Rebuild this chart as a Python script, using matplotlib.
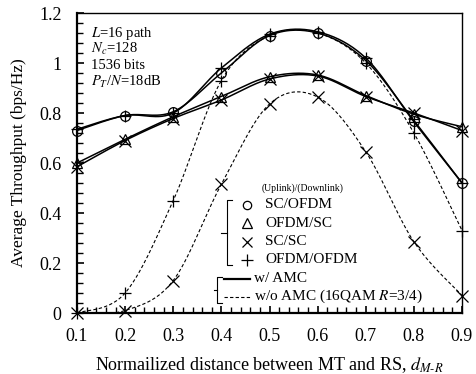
import numpy as np
import matplotlib
matplotlib.use('Agg')
import matplotlib.pyplot as plt
from matplotlib.lines import Line2D
from matplotlib.ticker import MultipleLocator, FixedLocator

plt.rcParams['font.family'] = ['Liberation Serif', 'DejaVu Serif']
plt.rcParams['mathtext.fontset'] = 'stix'

# ---------------- data ----------------
distance = [0.1, 0.2, 0.3, 0.4, 0.5, 0.6, 0.7, 0.8, 0.9]
sc_ofdm_amc = [0.73, 0.79, 0.805, 0.96, 1.11, 1.12, 1.01, 0.77, 0.52]
ofdm_ofdm_amc = [0.735, 0.79, 0.80, 0.98, 1.115, 1.125, 1.02, 0.765, 0.52]
ofdm_sc_amc = [0.60, 0.695, 0.785, 0.866, 0.945, 0.952, 0.87, 0.795, 0.745]
sc_sc_amc = [0.585, 0.69, 0.778, 0.852, 0.936, 0.948, 0.866, 0.80, 0.73]
ofdm_ofdm_noamc = [0.0, 0.08, 0.45, 0.93, 1.11, 1.12, 1.0, 0.72, 0.33]
sc_sc_noamc = [0.0, 0.01, 0.13, 0.515, 0.836, 0.864, 0.645, 0.285, 0.07]

x_ticks = [0.1, 0.2, 0.3, 0.4, 0.5, 0.6, 0.7, 0.8, 0.9]
x_tick_labels = ['0.1', '0.2', '0.3', '0.4', '0.5', '0.6', '0.7', '0.8', '0.9']
y_ticks = [0, 0.2, 0.4, 0.6, 0.8, 1.0, 1.2]
y_tick_labels = ['0', '0.2', '0.4', '0.6', '0.8', '1', '1.2']

legend_schemes = ['SC/OFDM', 'OFDM/SC', 'SC/SC', 'OFDM/OFDM']
legend_lines = ['w/ AMC', 'w/o AMC (16QAM $\\mathit{R}$=3/4)']
info_lines = ['$\\mathit{L}$=16 path', '$\\mathit{N_c}$=128', '1536 bits',
              '$\\mathit{P_T}$/$\\mathit{N}$=18dB']

W, H = 477, 374


def smooth(xs, ys, n=30):
    """Catmull-Rom smoothing (like a spreadsheet 'smoothed line')."""
    P = np.column_stack([xs, ys]).astype(float)
    P = np.vstack([P[0], P, P[-1]])
    t = np.linspace(0, 1, n, endpoint=False)[:, None]
    out = []
    for i in range(1, len(P) - 2):
        p0, p1, p2, p3 = P[i - 1], P[i], P[i + 1], P[i + 2]
        seg = 0.5 * (2 * p1 + (-p0 + p2) * t + (2 * p0 - 5 * p1 + 4 * p2 - p3) * t ** 2
                     + (-p0 + 3 * p1 - 3 * p2 + p3) * t ** 3)
        out.append(seg)
    out.append(P[-2][None, :])
    out = np.vstack(out)
    return out[:, 0], out[:, 1]


fig = plt.figure(figsize=(W / 100, H / 100), dpi=100)
ax = fig.add_axes([77 / W, (H - 313) / H, 385 / W, 300 / H])

solid_kw = dict(color='black', lw=1.1, linestyle='-')
dash_kw = dict(color='black', lw=0.8, linestyle=(0, (3, 2)))
mk = dict(markersize=7, markerfacecolor='none', markeredgecolor='black',
          markeredgewidth=0.9, linestyle='none', clip_on=False, zorder=5)

series = [
    (sc_ofdm_amc, 'o', solid_kw),
    (ofdm_ofdm_amc, '+', solid_kw),
    (ofdm_sc_amc, '^', solid_kw),
    (sc_sc_amc, 'x', solid_kw),
    (ofdm_ofdm_noamc, '+', dash_kw),
    (sc_sc_noamc, 'x', dash_kw),
]
for ys, m, kw in series:
    sx, sy = smooth(distance, ys)
    ax.plot(sx, sy, **kw)
    ms = 8 if m in ('+', 'x') else 7
    ax.plot(distance, ys, marker=m, **{**mk, 'markersize': ms})

ax.set_xlim(0.1, 0.9)
ax.set_ylim(0, 1.2)
ax.xaxis.set_major_locator(FixedLocator(x_ticks))
ax.set_xticklabels(x_tick_labels)
ax.yaxis.set_major_locator(FixedLocator(y_ticks))
ax.set_yticklabels(y_tick_labels)
ax.xaxis.set_minor_locator(MultipleLocator(0.02))
ax.yaxis.set_minor_locator(MultipleLocator(0.04))
ax.tick_params(which='both', direction='in', top=False, right=False,
               labelsize=13, pad=11)
ax.tick_params(which='major', length=5, width=1.2)
ax.tick_params(which='minor', length=4, width=1.0)
for s in ['left', 'bottom']:
    ax.spines[s].set_linewidth(1.6)
for s in ['top', 'right']:
    ax.spines[s].set_linewidth(1.0)

ax.set_xlabel('Normailized distance between MT and RS, $\\mathit{d_{M\\text{-}R}}$', fontsize=13)
ax.xaxis.set_label_coords(0.5, -0.14)
ax.set_ylabel('Average Throughput (bps/Hz)', fontsize=12.5)
ax.yaxis.set_label_coords(-0.13, 0.5)


def px(x, y):
    return x / W, 1 - y / H


# info text
for i, t in enumerate(info_lines):
    fig.text(*px(91, 33 + i * 16.4), t, fontsize=10.5, ha='left', va='center')

# legend
fig.text(*px(303, 188), '(Uplink)/(Downlink)', fontsize=7, ha='center', va='center')
leg_markers = ['o', '^', 'x', '+']
leg_ms = [6, 6.5, 7, 8]
for i, (lab, m) in enumerate(zip(legend_schemes, leg_markers)):
    yy = 205 + i * 18.3
    fig.add_artist(Line2D([247 / W], [1 - yy / H], marker=m, markersize=leg_ms[i],
                          markerfacecolor='none', markeredgecolor='black',
                          markeredgewidth=0.9, linestyle='none'))
    fig.text(*px(265, yy), lab, fontsize=11, ha='left', va='center')
for i, lab in enumerate(legend_lines):
    yy = 279 + i * 17.5
    kw = solid_kw if i == 0 else dash_kw
    fig.add_artist(Line2D([224 / W, 250 / W], [1 - yy / H, 1 - yy / H],
                          **{**kw, 'lw': 1.6 if i == 0 else 0.8}))
    fig.text(*px(254, yy), lab, fontsize=11, ha='left', va='center')


def bracket(xv, y0, y1, end_len, mid_len):
    xs = [xv + end_len, xv, xv, xv + end_len]
    ys = [y0, y0, y1, y1]
    fig.add_artist(Line2D([x / W for x in xs], [1 - y / H for y in ys],
                          color='black', lw=0.8))
    ym = (y0 + y1) / 2
    fig.add_artist(Line2D([(xv - mid_len) / W, xv / W], [1 - ym / H, 1 - ym / H],
                          color='black', lw=0.8))


bracket(227, 200, 265, 5, 6)
bracket(217, 277, 303, 5, 3)

fig.savefig('out.png', dpi=100)
